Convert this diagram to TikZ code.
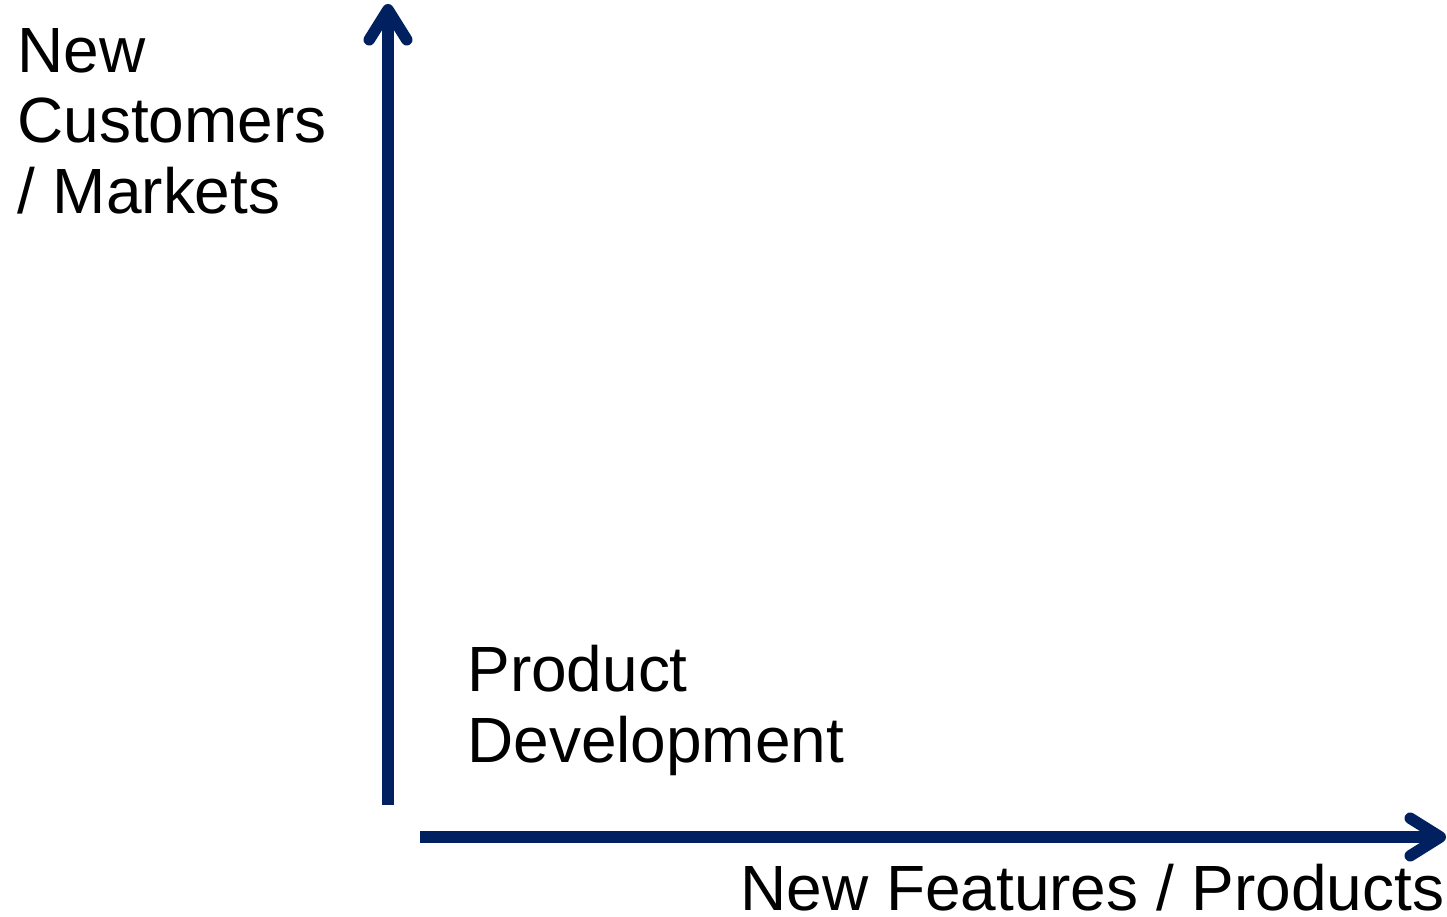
\documentclass[tikz,border=0pt]{standalone}
\usepackage{fontspec}
\setmainfont{Liberation Sans}
\usetikzlibrary{arrows.meta}
\definecolor{axisblue}{RGB}{0,32,96}

\begin{document}
\begin{tikzpicture}[every node/.style = {inner sep=0pt, align=left, anchor=base west,
    font=\fontsize{36.4}{40.4}\selectfont},
    axis/.style = {draw=axisblue, line width=0.23cm,
    -{Straight Barb[round, length=0.6cm, width=0.75cm]}}]
\useasboundingbox (0,0) rectangle (28.94,-18.34);
\node (market) at (0.34,-4.28) {New\\Customers\\/ Markets};
\node (product) at (9.34,-15.24) {Product\\Development};
\node (feature) at (14.8,-18.2) {New Features / Products};
\coordinate (origin) at (7.76,-16.1);
\coordinate (ytip) at (7.76,-0.08);
\coordinate (xstart) at (8.4,-16.74);
\coordinate (xtip) at (28.92,-16.74);
\draw[axis] (origin) -- (ytip);
\draw[axis] (xstart) -- (xtip);
\end{tikzpicture}
\end{document}
